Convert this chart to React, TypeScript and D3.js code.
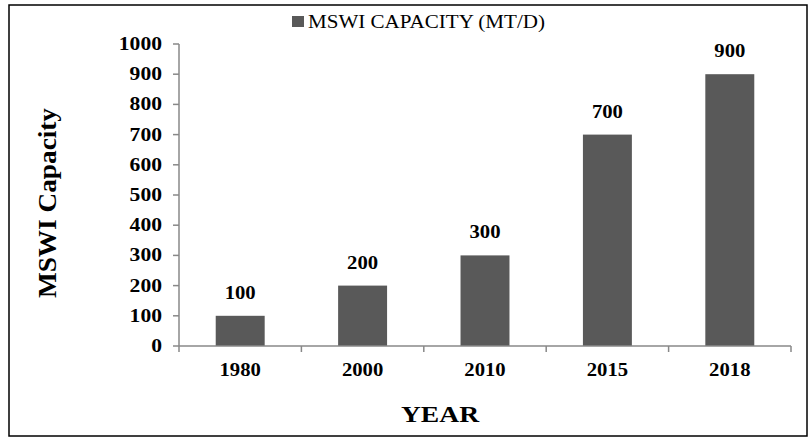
import React from "react";
import * as d3 from "d3";

const categories = ["1980", "2000", "2010", "2015", "2018"];
const values = [100, 200, 300, 700, 900];
const yTicks = [0, 100, 200, 300, 400, 500, 600, 700, 800, 900, 1000];
const seriesName = "MSWI CAPACITY (MT/D)";
const yTitle = "MSWI Capacity";
const xTitle = "YEAR";

type STextProps = {
  x: number;
  y: number;
  sx?: number;
  anchor?: "start" | "middle" | "end";
  size: number;
  bold?: boolean;
  rotate?: number;
  children: React.ReactNode;
};

function SText({ x, y, sx = 1, anchor = "start", size, bold, rotate = 0, children }: STextProps) {
  return (
    <text
      transform={`translate(${x},${y}) rotate(${rotate}) scale(${sx},1)`}
      textAnchor={anchor}
      fontSize={size}
      fontWeight={bold ? "bold" : "normal"}
      fill="#000"
    >
      {children}
    </text>
  );
}

export default function App() {
  const W = 809, H = 438;
  const x0 = 179, x1 = 791, yTop = 44, yBot = 346;
  const x = d3.scaleBand<string>().domain(categories).range([x0, x1]).paddingInner(0.6).paddingOuter(0.3);
  const band = d3.scaleBand<string>().domain(categories).range([x0, x1]);
  const y = d3.scaleLinear().domain([0, 1000]).range([yBot, yTop]);
  const font = "'Liberation Serif', 'Times New Roman', serif";
  const axisColor = "#888888";
  const barColor = "#595959";
  const edges = [...categories.map((c) => band(c)!), x1];
  return (
    <svg width={W} height={H} style={{ position: "absolute", left: 0, top: 0 }} fontFamily={font}>
      <rect x={9} y={5} width={798} height={431} fill="#fff" stroke="#000" strokeWidth={1.5} />
      {/* legend */}
      <rect x={292} y={16} width={12} height={11} fill={barColor} />
      <SText x={308} y={28} size={19.5} sx={1.08}>{seriesName}</SText>
      {/* bars */}
      {categories.map((c, i) => (
        <g key={c}>
          <rect x={x(c)} y={y(values[i])} width={x.bandwidth()} height={yBot - y(values[i])} fill={barColor} />
          <SText x={x(c)! + x.bandwidth() / 2} y={y(values[i]) - 17} anchor="middle" size={18} sx={1.15} bold>
            {values[i]}
          </SText>
          <SText x={band(c)! + band.bandwidth() / 2} y={376} anchor="middle" size={18} sx={1.15} bold>
            {c}
          </SText>
        </g>
      ))}
      {/* y axis */}
      <line x1={x0} x2={x0} y1={yTop} y2={yBot} stroke={axisColor} strokeWidth={1.5} />
      {yTicks.map((t) => (
        <g key={t}>
          <line x1={x0 - 6} x2={x0} y1={y(t)} y2={y(t)} stroke={axisColor} strokeWidth={1.5} />
          <SText x={162} y={y(t) + 6} anchor="end" size={18} sx={1.2} bold>{t}</SText>
        </g>
      ))}
      {/* x axis */}
      <line x1={x0} x2={x1} y1={yBot} y2={yBot} stroke={axisColor} strokeWidth={1.5} />
      {edges.map((e, i) => (
        <line key={i} x1={e} x2={e} y1={yBot} y2={yBot + 6} stroke={axisColor} strokeWidth={1.5} />
      ))}
      <SText x={440} y={422} anchor="middle" size={24} sx={1.15} bold>{xTitle}</SText>
      <g transform="translate(56,203) rotate(-90)">
        <text textAnchor="middle" fontSize={25} fontWeight="bold" textLength={190} lengthAdjust="spacingAndGlyphs">
          {yTitle}
        </text>
      </g>
    </svg>
  );
}
